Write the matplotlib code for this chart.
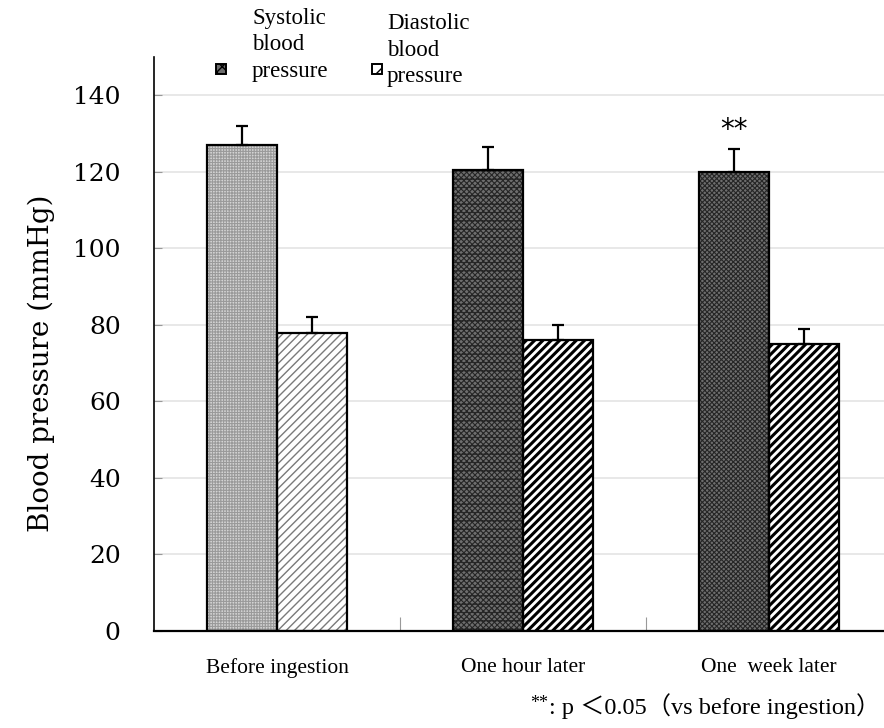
import matplotlib
matplotlib.use('Agg')
import matplotlib.pyplot as plt
import numpy as np

categories = ['Before ingestion', 'One hour later', 'One  week later']
systolic = [127, 120.5, 120]
diastolic = [78, 76, 75]
systolic_err = [5, 6, 6]
diastolic_err = [4, 4, 4]

legend_labels = ['Systolic\nblood\npressure', 'Diastolic\nblood\npressure']
y_ticks = [0, 20, 40, 60, 80, 100, 120, 140]

# per-bar looks: (facecolor, hatch colour, hatch, hatch linewidth)
sys_styles = [('#d4d4d4', '#9a9a9a', '++++++', 0.8),
              ('#6e6e6e', '#262626', 'xxxxxx--', 0.8),
              ('#6e6e6e', '#262626', 'xxxxxxx', 0.8)]
dia_styles = [('white', '#7a7a7a', '////', 1.0),
              ('white', 'black', '////', 2.2),
              ('white', 'black', '////', 2.2)]

serif = ['Liberation Serif', 'DejaVu Serif']

fig = plt.figure(figsize=(8.84, 7.28), dpi=100)
ax = fig.add_axes([154 / 884, 97 / 728, (892 - 154) / 884, 574 / 728])

x = np.arange(len(categories))
w = 0.285

def draw_bars(xpos, vals, styles):
    for xi, v, (fc, hc, h, hlw) in zip(xpos, vals, styles):
        with plt.rc_context({'hatch.linewidth': hlw}):
            b = ax.bar(xi, v, w, color=fc, edgecolor=hc, hatch=h, linewidth=0, zorder=2)
            for p in b:
                if hasattr(p, 'set_hatch_linewidth'):
                    p.set_hatch_linewidth(hlw)
        ax.bar(xi, v, w, fill=False, edgecolor='black', linewidth=1.6, zorder=3)

draw_bars(x - w / 2, systolic, sys_styles)
draw_bars(x + w / 2, diastolic, dia_styles)

ax.errorbar(x - w / 2, systolic, yerr=[[0] * 3, systolic_err], fmt='none',
            ecolor='black', elinewidth=1.6, capsize=4, capthick=1.6, zorder=4)
ax.errorbar(x + w / 2, diastolic, yerr=[[0] * 3, diastolic_err], fmt='none',
            ecolor='black', elinewidth=1.6, capsize=4, capthick=1.6, zorder=4)

ax.text(x[2] - w / 2, systolic[2] + systolic_err[2] + 5, '**',
        ha='center', va='center', fontsize=20, family='DejaVu Sans')

ax.set_xlim(-0.5, 2.5)
ax.set_ylim(0, 150)
ax.set_yticks(y_ticks)
ax.set_yticklabels([str(t) for t in y_ticks], fontsize=18, family='DejaVu Serif')
ax.yaxis.grid(True, color='#e4e4e4', linewidth=1.2, zorder=0)
ax.set_axisbelow(True)
ax.tick_params(axis='y', direction='in', length=6, color='#999999', pad=24)
ax.set_xticks([0.5, 1.5])
ax.set_xticklabels([])
ax.tick_params(axis='x', direction='in', length=10, color='#999999')
for s in ['top', 'right']:
    ax.spines[s].set_visible(False)
ax.spines['left'].set_linewidth(1.2)
ax.spines['bottom'].set_linewidth(1.6)

ax.set_ylabel('Blood pressure (mmHg)', fontsize=20, family='DejaVu Serif')
ax.yaxis.set_label_coords((55 - 154) / 738, (631 - 363) / 574)

label_x = [277, 523, 769]
for lx, lab in zip(label_x, categories):
    fig.text(lx / 884, 1 - 668 / 728, lab, ha='center', va='center', fontsize=15.5, family=serif)

fig.text(530 / 884, 1 - 703 / 728, '**', ha='left', va='center', fontsize=13, family=serif)
fig.text(549 / 884, 1 - 706 / 728, ': p \uff1c0.05\uff08vs before ingestion\uff09',
         ha='left', va='center', fontsize=17.5, family=['Liberation Serif', 'Noto Sans CJK JP'])

# legend squares and text
leg_sq = [(221, 69), (377, 69)]
leg_txt = [(252, 45), (387, 50)]
for (sx, sy), (tx, ty), lab, st in zip(leg_sq, leg_txt, legend_labels, [sys_styles[2], dia_styles[1]]):
    fig.patches.append(plt.Rectangle(((sx - 5) / 884, 1 - (sy + 5) / 728), 10 / 884, 10 / 728,
                                     transform=fig.transFigure, facecolor=st[0], edgecolor='black',
                                     hatch='xxx' if st[0] != 'white' else '//', linewidth=1.4))
    fig.text(tx / 884, 1 - ty / 728, lab, ha='left', va='center', fontsize=16.5,
             family=serif, linespacing=1.32)

fig.savefig('out.png', dpi=100)
